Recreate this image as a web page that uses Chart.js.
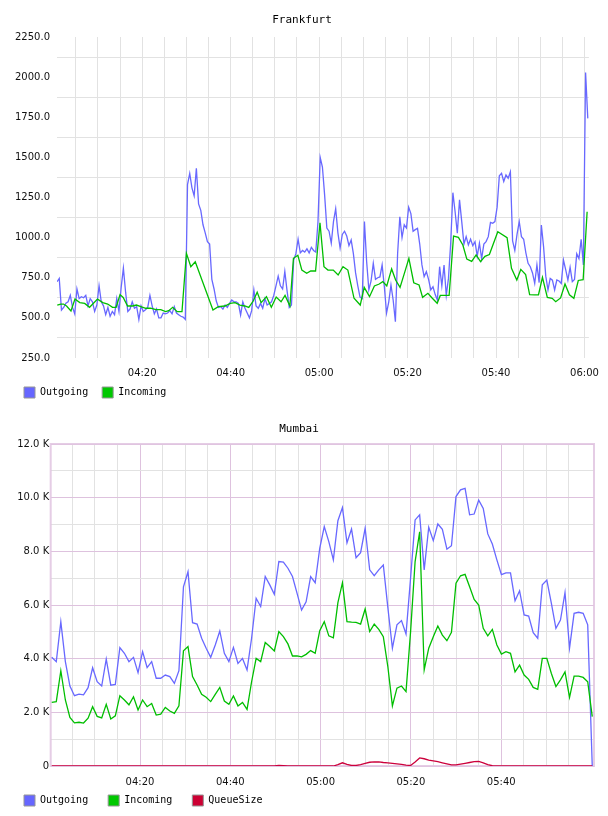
<!DOCTYPE html>
<html><head><meta charset="utf-8">
<script src="https://cdn.jsdelivr.net/npm/chart.js@4.4.1/dist/chart.umd.min.js"></script>
<style>html,body{margin:0;padding:0;background:#fff;}canvas{display:block;}</style>
</head><body>
<canvas id="fra" width="608" height="410"></canvas>
<canvas id="mum" width="608" height="406"></canvas>
<script>
// ---------- data (times are minutes after 04:00) ----------
const fraTitle = 'Frankfurt';
const mumTitle = 'Mumbai';
const seriesNames = ['Outgoing', 'Incoming', 'QueueSize'];

// Frankfurt Outgoing: one sample every 30 s from 04:00:45
const fraOutStart = 0.75;
const fraOutStep = 0.5;
const fraOutgoing = [
  725,746,549,565,591,600,640,565,525,680,
  620,632,625,640,575,620,600,540,580,700,
  600,575,520,565,510,540,520,620,540,690,
  810,660,540,555,600,560,570,490,575,540,
  550,565,640,575,525,555,500,500,530,525,
  530,545,525,570,530,520,510,505,490,
  1330,1400,1310,1260,1432,1210,1170,1080,1030,975,960,
  740,680,605,565,570,555,580,565,590,611,
  600,600,590,518,600,560,530,500,545,674,
  575,560,590,560,620,580,590,600,640,700,
  760,700,680,790,670,565,580,860,900,990,
  905,920,910,930,905,940,920,910,1100,1500,
  1440,1265,1060,1040,965,1100,1180,1030,935,1020,
  1040,1010,950,985,900,780,700,630,620,1100,
  850,675,730,840,740,750,755,830,695,530,
  600,705,610,476,900,1130,1000,1080,1060,1190,
  1150,1040,1050,1058,960,830,757,788,740,674,
  694,645,611,819,700,829,640,746,965,1280,
  1161,1027,1235,1100,960,1006,955,990,950,975,
  885,965,870,960,975,1006,1095,1089,1100,1190,
  1385,1400,1350,1390,1370,1410,980,920,1020,1100,
  1006,990,905,840,819,780,715,830,720,1079,
  944,760,674,746,735,674,736,730,715,860,
  800,736,815,726,740,900,870,990,830,2028,1743
];

// Frankfurt Incoming: irregular samples
const fraInMinutes = [
  0.8,1.6,2.2,2.9,3.9,4.8,5.9,7.0,8.1,9.9,11.1,12.2,13.3,14.1,15.0,15.7,16.7,17.8,18.7,19.7,
  20.8,21.9,23.1,24.2,25.3,26.0,26.9,27.9,29.0,30.0,31.0,32.0,36.0,37.2,38.7,39.9,41.0,42.1,43.2,44.1,
  45.1,46.0,46.9,48.1,49.2,50.3,51.4,52.3,53.4,54.2,55.2,56.1,57.2,58.1,59.2,60.2,61.1,62.0,63.2,64.3,
  65.4,66.5,67.9,69.3,70.2,71.4,72.5,73.6,74.4,75.3,76.4,77.3,78.3,79.4,80.3,81.4,82.6,83.4,84.6,85.6,
  86.7,87.4,88.5,89.4,90.4,91.5,92.5,93.4,94.5,95.5,96.5,97.5,98.5,100.4,102.5,103.5,104.7,105.6,106.7,107.6,
  108.7,109.6,110.5,111.6,112.7,113.5,114.6,115.6,116.6,117.6,118.6,119.7,120.6
];
const fraIncoming = [
  580,586,586,574,543,617,595,590,566,617,595,586,566,566,645,627,574,574,580,570,
  560,560,551,551,539,545,566,539,539,902,819,850,549,570,574,590,595,580,574,565,
  605,660,595,632,566,630,600,640,574,871,890,798,778,792,792,1093,819,798,798,767,
  819,798,622,580,690,632,699,711,726,699,805,736,690,788,871,719,705,628,653,622,
  591,640,640,640,1010,1002,954,866,852,892,850,883,895,1037,1000,809,736,802,770,645,
  643,644,753,628,622,601,624,711,644,622,733,738,1161
];

// Mumbai: one sample per ~minute from 04:00:27
const mumStart = 0.45;
const mumStep = 1.006;
const mumOutgoing = [
  4050,3890,5380,3890,2980,2620,2680,2650,2920,3660,
  3140,2980,3980,3010,3040,4410,4200,3890,4050,3480,
  4260,3670,3890,3270,3270,3390,3330,3080,3550,6680,
  7240,5340,5290,4760,4390,4050,4510,5030,4200,3890,
  4420,3820,4010,3580,4760,6250,5940,7060,6750,6400,
  7620,7600,7370,7060,6440,5810,6120,7060,6830,8110,
  8920,8360,7680,9140,9630,8320,8830,7760,7950,8860,
  7310,7090,7310,7490,5900,4390,5260,5420,4920,7000,
  9170,9360,7310,8900,8400,9020,8820,8080,8210,10040,
  10290,10350,9360,9390,9910,9600,8650,8270,7680,7130,
  7200,7200,6160,6530,5630,5590,4970,4760,6750,6930,
  6060,5130,5440,6460,4390,5690,5730,5690,5260,0
];
const mumIncoming = [
  2370,2400,3550,2460,1810,1610,1630,1600,1780,2210,
  1850,1790,2300,1750,1870,2620,2460,2280,2580,2090,
  2460,2210,2330,1900,1930,2180,2050,1960,2240,4290,
  4450,3330,3020,2670,2560,2400,2670,2930,2420,2300,
  2610,2240,2370,2110,3140,4010,3890,4600,4450,4290,
  5010,4820,4550,4100,4100,4070,4160,4300,4200,5040,
  5380,4850,4780,6090,6830,5380,5360,5350,5290,5850,
  5010,5290,5090,4820,3700,2240,2900,2980,2770,5000,
  7620,8730,3580,4390,4820,5220,4880,4670,4980,6810,
  7090,7140,6680,6210,6000,5130,4850,5090,4510,4170,
  4260,4200,3510,3760,3390,3230,2930,2860,4010,4010,
  3450,2960,3210,3510,2560,3350,3350,3300,3140,1840
];
const mumQueue = [
  0,0,0,0,0,0,0,0,0,0,
  0,0,0,0,0,0,0,0,0,0,
  0,0,0,0,0,0,0,0,0,0,
  0,0,0,0,0,0,0,0,0,0,
  0,0,0,0,0,0,0,0,0,0,
  20,10,0,0,0,0,0,0,0,0,
  0,0,0,50,120,60,20,20,50,100,
  140,150,150,130,120,100,80,60,30,20,
  150,300,270,220,190,160,120,80,40,40,
  70,100,130,160,170,120,50,10,0,0,
  0,0,0,0,0,0,0,0,0,0,
  0,0,0,0,0,0,0,0,0,0
];

// ---------- styling ----------
const colOut = 'rgb(104,104,255)';
const colIn = 'rgb(0,190,0)';
const colQ = 'rgb(204,0,60)';
const boxCols = ['rgb(102,102,255)', 'rgb(0,200,0)', 'rgb(204,0,51)'];
const gridGray = 'rgb(226,226,226)';
const gridPink = 'rgb(222,194,222)';
const tickFont = {family: 'DejaVu Sans', size: 10};
const monoFont = {family: 'DejaVu Sans Mono', size: 10};
const titleFont = {family: 'DejaVu Sans Mono', size: 11, weight: 'normal'};

function hhmm(v) {
  const h = 4 + Math.floor(v / 60), m = Math.round(v % 60);
  return String(h).padStart(2, '0') + ':' + String(m).padStart(2, '0');
}
function pts(times, vals) { return vals.map((v, i) => ({x: times[i], y: v})); }
const fraOutTimes = fraOutgoing.map((_, i) => fraOutStart + i * fraOutStep);
const mumTimes = mumOutgoing.map((_, i) => mumStart + i * mumStep);

function legendLabels(chart) {
  return chart.data.datasets.map((ds, i) => ({
    text: ds.label, fillStyle: boxCols[i], strokeStyle: 'rgb(150,150,150)',
    lineWidth: 1, hidden: false, datasetIndex: i, fontColor: '#000'
  }));
}
function ds(label, data, color, order) {
  return {label, data, borderColor: color, backgroundColor: color, borderWidth: 1.3,
          pointRadius: 0, tension: 0, fill: false, order};
}
// extend the legend box upward so its items sit closer to the axis labels
function legendLift(dy) {
  return {
    id: 'legendLift',
    afterLayout(chart) {
      const l = chart.legend;
      if (l) { l.top -= dy; l.height += dy; }
    }
  };
}

// ---------- Frankfurt ----------
new Chart(document.getElementById('fra'), {
  type: 'line',
  data: {datasets: [
    ds(seriesNames[0], pts(fraOutTimes, fraOutgoing), colOut, 2),
    ds(seriesNames[1], pts(fraInMinutes, fraIncoming), colIn, 1)
  ]},
  plugins: [legendLift(7)],
  options: {
    responsive: false, animation: false, devicePixelRatio: 1,
    layout: {padding: {left: 10, right: 14, top: 0, bottom: 2}},
    plugins: {
      title: {display: true, text: fraTitle, font: titleFont, color: '#000', padding: {top: 13.4, bottom: 10.4}},
      legend: {position: 'bottom', align: 'start', maxHeight: 28,
        labels: {boxWidth: 11, boxHeight: 11, padding: 14, font: monoFont, color: '#000', generateLabels: legendLabels}},
      tooltip: {enabled: false}
    },
    scales: {
      x: {type: 'linear', min: 0.74, max: 121,
        afterFit(s) { s.height = 22; },
        grid: {color: gridGray, drawTicks: false}, border: {display: false},
        ticks: {stepSize: 5, includeBounds: false, autoSkip: false, maxRotation: 0, padding: 9,
          font: tickFont, color: '#111', callback: v => (v % 20 === 0 ? hhmm(v) : '')}},
      y: {type: 'linear', min: 250, max: 2250,
        afterFit(s) { s.width = 47; },
        grid: {color: gridGray, drawTicks: false, offset: true}, border: {display: false},
        ticks: {stepSize: 250, autoSkip: false, padding: 7, font: tickFont, color: '#111',
          callback: v => Number(v).toFixed(1)}}
    }
  }
});

// ---------- Mumbai ----------
const framePlugin = {
  id: 'frame',
  beforeDatasetsDraw(chart) {
    const a = chart.chartArea, c = chart.ctx;
    c.save();
    c.strokeStyle = 'rgba(224,196,224,0.85)';
    c.lineWidth = 2;
    c.strokeRect(a.left, a.top, a.right - a.left, a.bottom - a.top);
    c.restore();
  }
};
new Chart(document.getElementById('mum'), {
  type: 'line',
  data: {datasets: [
    ds(seriesNames[0], pts(mumTimes, mumOutgoing), colOut, 3),
    ds(seriesNames[1], pts(mumTimes, mumIncoming), colIn, 2),
    ds(seriesNames[2], pts(mumTimes, mumQueue), colQ, 1)
  ]},
  plugins: [framePlugin, legendLift(13)],
  options: {
    responsive: false, animation: false, devicePixelRatio: 1,
    layout: {padding: {left: 4, right: 14, top: 0, bottom: 0}},
    plugins: {
      title: {display: true, text: mumTitle, font: titleFont, color: '#000', padding: {top: 12.4, bottom: 8.4}},
      legend: {position: 'bottom', align: 'start', maxHeight: 28,
        labels: {boxWidth: 11, boxHeight: 11, padding: 20, font: monoFont, color: '#000', generateLabels: legendLabels}},
      tooltip: {enabled: false}
    },
    scales: {
      x: {type: 'linear', min: 0.22, max: 120.55,
        afterFit(s) { s.height = 22; },
        afterBuildTicks(s) { s.ticks = s.ticks.filter(t => t.value < 120); },
        grid: {color: c => (c.tick && c.tick.value % 20 === 0 ? gridPink : gridGray), drawTicks: false},
        border: {display: false},
        ticks: {stepSize: 5, includeBounds: false, autoSkip: false, maxRotation: 0, padding: 10,
          font: tickFont, color: '#111', callback: v => (v % 20 === 0 ? hhmm(v) : '')}},
      y: {type: 'linear', min: 0, max: 12000,
        afterFit(s) { s.width = 46.7; },
        grid: {color: c => (c.tick && c.tick.value % 2000 === 0 ? gridPink : gridGray), drawTicks: false},
        border: {display: false},
        ticks: {stepSize: 1000, autoSkip: false, padding: 1.5, font: tickFont, color: '#111',
          callback: v => (v === 0 ? '0' : (v % 2000 === 0 ? (v / 1000).toFixed(1) + ' K' : ''))}}
    }
  }
});
</script>
</body></html>
